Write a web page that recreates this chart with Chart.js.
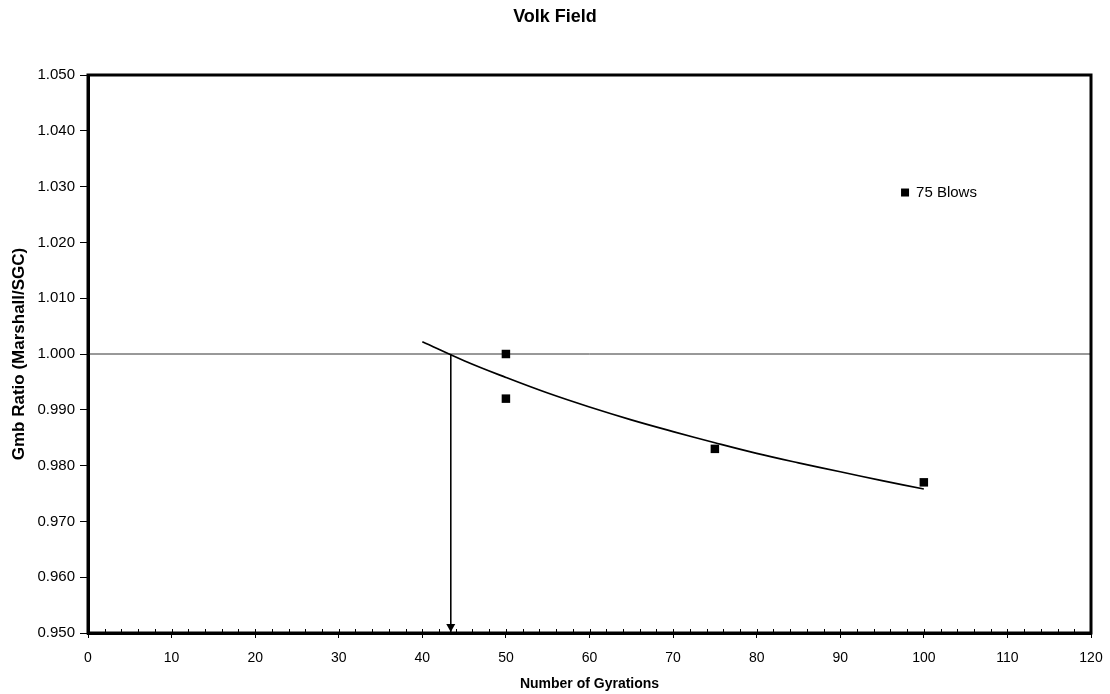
<!DOCTYPE html>
<html>
<head>
<meta charset="utf-8">
<title>Volk Field</title>
<script src="https://cdn.jsdelivr.net/npm/chart.js@4/dist/chart.umd.min.js"></script>
<style>
  html, body { margin: 0; padding: 0; background: #fff; }
  #chart { display: block; }
</style>
</head>
<body>
<canvas id="chart" width="1110" height="694"></canvas>
<script>
// measured points (75 blows Marshall vs SGC)
const blowsX = [50, 50, 75, 100];
const blowsY = [1.000, 0.992, 0.983, 0.977];

// trend curve
const trendX = [40, 45, 50, 55, 60, 65, 70, 75, 80, 85, 90, 95, 100];
const trendY = [1.0022, 0.9988, 0.9958, 0.9930, 0.9905, 0.9882, 0.9861, 0.9841, 0.9822, 0.9805, 0.9789, 0.9773, 0.9758];

// ratio = 1.000 reference line and the drop-down arrow
const refX = [0, 120];
const refY = [1.000, 1.000];
const arrowX = [43.4, 43.4];
const arrowY = [1.000, 0.950];

const xTicks = { min: 0, max: 120, step: 2, major: 10 };
const yTicks = { min: 0.95, max: 1.05, step: 0.01 };

const FONT = "'Liberation Sans', Arial, sans-serif";
const pts = (xs, ys) => xs.map((x, i) => ({ x, y: ys[i] }));

const framePlugin = {
    id: 'frame',
    afterDatasetsDraw(chart) {
        const { ctx, chartArea: a } = chart;
        const xs = chart.scales.x;
        ctx.save();
        // inner minor ticks along the x axis
        ctx.strokeStyle = '#000';
        ctx.lineWidth = 1;
        xs.ticks.forEach(t => {
            const px = Math.round(xs.getPixelForValue(t.value)) + 0.5;
            ctx.beginPath(); ctx.moveTo(px, a.bottom); ctx.lineTo(px, a.bottom - 4); ctx.stroke();
        });
        // arrow head at the end of the drop line
        const m = chart.getDatasetMeta(3).data;
        const tip = m[m.length - 1];
        ctx.fillStyle = '#000';
        ctx.beginPath();
        ctx.moveTo(tip.x, tip.y - 1);
        ctx.lineTo(tip.x - 4.5, tip.y - 9);
        ctx.lineTo(tip.x + 4.5, tip.y - 9);
        ctx.closePath(); ctx.fill();
        // plot box
        ctx.lineWidth = 3;
        ctx.strokeRect(a.left, a.top, a.right - a.left, a.bottom - a.top);
        // legend inside the plot
        const lx = a.left + (a.right - a.left) * 0.8146;
        const ly = a.top + (a.bottom - a.top) * 0.2106;
        ctx.fillRect(lx - 4, ly - 4, 8, 8);
        ctx.font = '15px ' + FONT;
        ctx.textBaseline = 'middle';
        ctx.fillText(chart.data.datasets[0].label, lx + 11, ly);
        ctx.restore();
    }
};

new Chart(document.getElementById('chart'), {
    type: 'scatter',
    data: { datasets: [
        { label: '75 Blows', data: pts(blowsX, blowsY), pointStyle: 'rect', pointRadius: 6, pointHoverRadius: 6, backgroundColor: '#000', borderColor: '#000', borderWidth: 0 },
        { label: 'trend', data: pts(trendX, trendY), showLine: true, borderColor: '#000', borderWidth: 1.7, pointRadius: 0, tension: 0.4, fill: false },
        { label: 'ref', data: pts(refX, refY), showLine: true, borderColor: '#333', borderWidth: 1, pointRadius: 0 },
        { label: 'arrow', data: pts(arrowX, arrowY), showLine: true, borderColor: '#000', borderWidth: 1, pointRadius: 0 }
    ] },
    options: {
        responsive: false, animation: false, devicePixelRatio: 1,
        layout: { padding: 0 },
        plugins: {
            legend: { display: false },
            tooltip: { enabled: false },
            title: { display: true, text: 'Volk Field', color: '#000', font: { family: FONT, size: 18, weight: 'bold' }, padding: { top: 6, bottom: 47.4 } }
        },
        scales: {
            x: {
                type: 'linear', min: xTicks.min, max: xTicks.max,
                afterFit: s => { s.height = 61; s.paddingLeft = 0; s.paddingRight = 19; },
                ticks: { stepSize: xTicks.step, autoSkip: false, maxRotation: 0, color: '#000', padding: 12, font: { family: FONT, size: 14 },
                         callback: v => v % xTicks.major === 0 ? v : '' },
                grid: { drawOnChartArea: false, tickLength: 5, tickWidth: 1,
                        tickColor: c => (c.tick && c.tick.value % xTicks.major === 0) ? '#000' : 'rgba(0,0,0,0)' },
                border: { display: true, color: '#000', width: 3 },
                title: { display: true, text: 'Number of Gyrations', color: '#000', font: { family: FONT, size: 14, weight: 'bold' }, padding: { top: 0, bottom: 1 } }
            },
            y: {
                min: yTicks.min, max: yTicks.max,
                afterFit: s => { s.width = 88; },
                ticks: { stepSize: yTicks.step, color: '#000', padding: 5, font: { family: FONT, size: 15 }, callback: v => v.toFixed(3) },
                grid: { drawOnChartArea: false, tickLength: 8, tickColor: '#000' },
                border: { display: true, color: '#000', width: 3 },
                title: { display: true, text: 'Gmb Ratio (Marshall/SGC)', color: '#000', font: { family: FONT, size: 17, weight: 'bold' }, padding: { top: 9, bottom: 0 } }
            }
        }
    },
    plugins: [framePlugin]
});
</script>
</body>
</html>
